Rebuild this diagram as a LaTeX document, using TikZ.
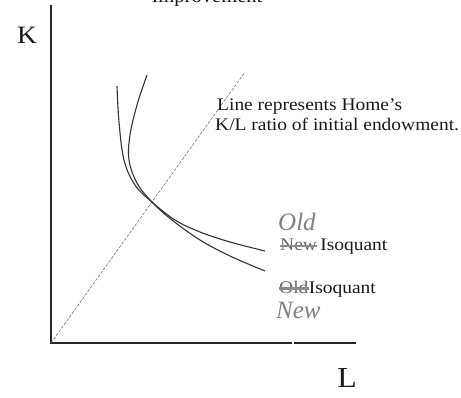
\documentclass[tikz,border=0pt]{standalone}
\usepackage{fontspec}
\setmainfont{Liberation Serif}[FakeStretch=1.1]
\newfontfamily\handfont{Liberation Serif}[FakeStretch=1.0]
\begin{document}
\begin{tikzpicture}[x=1pt,y=-1pt,
  axisline/.style={line width=1.3pt,black!85},
  curveline/.style={line width=1.1pt,black!80},
  ratioline/.style={line width=0.6pt,black!55,dash pattern=on 3pt off 1.5pt},
  label/.style={inner sep=0pt,font=\fontsize{17.7}{20}\selectfont,text=black!90},
  hand/.style={inner sep=0pt,font=\handfont\itshape\fontsize{25}{27}\selectfont,text=black!50},
  strike/.style={line width=2.2pt,black!45}]
\path[use as bounding box] (0,0) rectangle (461,398);
\clip (0,0) rectangle (461,398);
% title (cut off at top, as in the reference)
\node[label,anchor=base,font=\fontsize{18.7}{20}\selectfont] (title) at (207,3) {Improvement};
% axes
\coordinate (O) at (51,343);
\coordinate (ytop) at (51,5);
\coordinate (xgap1) at (292,343);
\coordinate (xgap2) at (294,343);
\coordinate (xend) at (356,343);
\draw[axisline] (ytop) -- (O) -- (xgap1);
\draw[axisline] (xgap2) -- (xend);
\node[inner sep=0pt,font=\fontsize{25}{27}\selectfont,text=black!90] (K) at (27,35) {K};
\node[inner sep=0pt,font=\fontsize{29}{31}\selectfont,text=black!90] (L) at (347,378) {L};
% ratio line
\coordinate (rtop) at (245,72);
\draw[ratioline] (O) -- (rtop);
% isoquants
\coordinate (c1s) at (117,86);
\coordinate (c1e) at (265,251);
\coordinate (c2s) at (147,75);
\coordinate (c2e) at (265,271);
\draw[curveline] plot[smooth,tension=0.6] coordinates {(c1s) (119,122) (124,160) (135,185) (152,202) (175,220) (200,232) (230,242) (c1e)};
\draw[curveline] plot[smooth,tension=0.6] coordinates {(c2s) (137,105) (130,135) (129,160) (137,183) (152,202) (172,220) (200,240) (230,256) (c2e)};
% annotation
\node[label,anchor=base west] (l1) at (217,111) {Line represents Home’s};
\node[label,anchor=base west] (l2) at (215,131) {K/L ratio of initial endowment.};
% isoquant labels
\node[label,anchor=base west,text=black!60] (newstruck) at (280,251) {New};
\draw[strike] (newstruck.west |- 0,246) -- (newstruck.east |- 0,246);
\node[label,anchor=base west] (iso1) at (newstruck.base east) {\,Isoquant};
\node[label,anchor=base west,text=black!60] (oldstruck) at (279,294) {Old};
\draw[strike,line width=3pt] (oldstruck.west |- 0,289) -- (oldstruck.east |- 0,289);
\node[label,anchor=base west] (iso2) at (oldstruck.base east) {Isoquant};
% handwritten corrections
\node[hand,anchor=base west] (hold) at (278,231) {Old};
\node[hand,anchor=base west] (hnew) at (276,319) {New};
\end{tikzpicture}
\end{document}
